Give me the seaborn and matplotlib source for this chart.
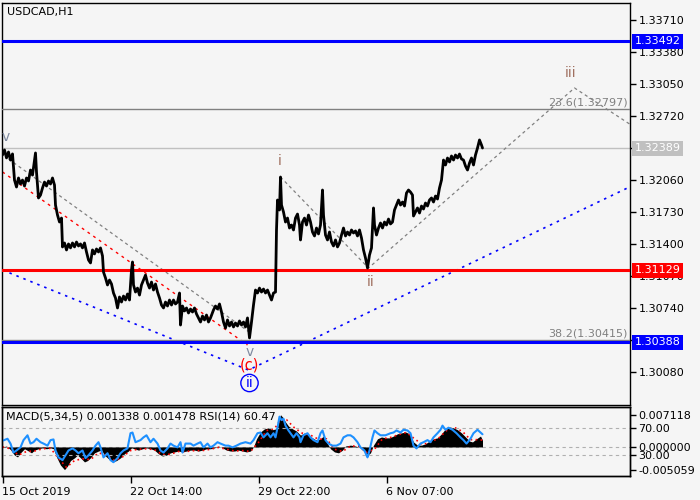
import matplotlib
matplotlib.use("Agg")
import matplotlib.pyplot as plt
import matplotlib.transforms as mtransforms
import seaborn as sns
import pandas as pd

sns.set_theme(style="white")
plt.rcParams['font.family'] = ['DejaVu Sans']

# ---------------- data ----------------
bars = [2, 4, 6, 8, 10, 12, 14, 16, 18, 20, 22, 24, 26, 28, 30, 32, 34, 35, 36, 38, 40, 42, 44, 46, 48, 50,
        52, 54, 55, 57, 59, 61, 62, 64, 66, 68, 70, 72, 74, 76, 78, 80, 82, 84, 86, 88, 90, 92, 94, 96, 98,
        100, 102, 103, 105, 107, 109, 111, 113, 115, 117, 119, 121, 123, 125, 127, 129, 131, 132, 133, 135,
        137, 139, 141, 143, 145, 147, 149, 151, 153, 155, 157, 159, 161, 163, 165, 167, 169, 171, 173, 175,
        177, 179, 180, 182, 184, 186, 188, 190, 192, 194, 196, 198, 200, 202, 204, 206, 208, 210, 213, 215,
        217, 219, 221, 223, 225, 227, 229, 231, 233, 235, 237, 239, 241, 243, 245, 247, 249, 251, 253, 255,
        257, 259, 261, 263, 265, 267, 269, 271, 273, 275, 276, 277, 279, 280, 281, 283, 285, 287, 289, 291,
        293, 295, 297, 299, 300, 302, 304, 306, 308, 310, 312, 314, 316, 318, 320, 322, 323, 325, 327, 329,
        331, 333, 335, 337, 339, 341, 343, 345, 347, 349, 351, 353, 355, 357, 359, 361, 363, 365, 367, 369,
        371, 373, 374, 376, 378, 380, 382, 384, 386, 388, 390, 392, 394, 396, 398, 400, 402, 404, 406, 408,
        410, 412, 413, 415, 417, 419, 421, 423, 425, 427, 429, 431, 433, 435, 437, 439, 441, 443, 445, 447,
        449, 451, 453, 455, 457, 459, 461, 463, 465, 467, 469, 471, 473, 475, 477, 479, 481, 482]
close = [1.32318, 1.32370, 1.32288, 1.32349, 1.32266, 1.32329, 1.32060, 1.31988, 1.32081, 1.32019, 1.32060,
         1.31998, 1.32081, 1.32050, 1.32163, 1.32111, 1.32266, 1.32339, 1.32142, 1.31875, 1.31905, 1.31978,
         1.32039, 1.31998, 1.32050, 1.32019, 1.32081, 1.32008, 1.31802, 1.31699, 1.31627, 1.31668, 1.31370,
         1.31411, 1.31339, 1.31401, 1.31360, 1.31411, 1.31370, 1.31421, 1.31380, 1.31401, 1.31360, 1.31411,
         1.31318, 1.31236, 1.31205, 1.31339, 1.31298, 1.31349, 1.31318, 1.31360, 1.31277, 1.31111, 1.31050,
         1.30978, 1.31029, 1.30988, 1.30895, 1.30844, 1.30741, 1.30854, 1.30802, 1.30864, 1.30823, 1.30885,
         1.30823, 1.31132, 1.31215, 1.30978, 1.30905, 1.30946, 1.30874, 1.30978, 1.31029, 1.31080, 1.30998,
         1.30946, 1.31008, 1.30926, 1.30988, 1.30905, 1.30844, 1.30771, 1.30741, 1.30802, 1.30761, 1.30823,
         1.30771, 1.30823, 1.30782, 1.30802, 1.30895, 1.30565, 1.30761, 1.30710, 1.30741, 1.30689, 1.30730,
         1.30699, 1.30741, 1.30679, 1.30638, 1.30596, 1.30658, 1.30617, 1.30668, 1.30596, 1.30638, 1.30720,
         1.30761, 1.30730, 1.30782, 1.30699, 1.30596, 1.30534, 1.30617, 1.30555, 1.30596, 1.30545, 1.30586,
         1.30555, 1.30607, 1.30565, 1.30596, 1.30545, 1.30638, 1.30432, 1.30596, 1.30771, 1.30926, 1.30895,
         1.30946, 1.30905, 1.30936, 1.30895, 1.30926, 1.30874, 1.30823, 1.30895, 1.30905, 1.31545, 1.31854,
         1.31751, 1.32091, 1.31802, 1.31730, 1.31627, 1.31668, 1.31565, 1.31596, 1.31545, 1.31668, 1.31709,
         1.31596, 1.31442, 1.31627, 1.31668, 1.31596, 1.31699, 1.31627, 1.31524, 1.31483, 1.31565, 1.31504,
         1.31596, 1.31957, 1.31699, 1.31493, 1.31442, 1.31524, 1.31421, 1.31380, 1.31442, 1.31370, 1.31411,
         1.31493, 1.31565, 1.31483, 1.31524, 1.31493, 1.31545, 1.31514, 1.31535, 1.31483, 1.31545, 1.31462,
         1.31339, 1.31256, 1.31153, 1.31287, 1.31360, 1.31772, 1.31596, 1.31493, 1.31565, 1.31617, 1.31565,
         1.31627, 1.31596, 1.31658, 1.31607, 1.31627, 1.31751, 1.31802, 1.31854, 1.31802, 1.31833, 1.31792,
         1.31926, 1.31957, 1.31936, 1.31905, 1.31689, 1.31730, 1.31772, 1.31720, 1.31792, 1.31761, 1.31823,
         1.31792, 1.31854, 1.31875, 1.31833, 1.31895, 1.31864, 1.31978, 1.32060, 1.32266, 1.32215, 1.32287,
         1.32246, 1.32308, 1.32266, 1.32318, 1.32287, 1.32328, 1.32277, 1.32266, 1.32204, 1.32163, 1.32235,
         1.32287, 1.32215, 1.32318, 1.32390, 1.32473, 1.32421, 1.32390]

# horizontal levels
level_values = [1.33492, 1.31129, 1.30388]
level_colors = ['#0000ff', '#ff0000', '#0000ff']
fib_values = [1.32797, 1.30415]
fib_labels = ['23.6(1.32797)', '38.2(1.30415)']
last_price = 1.32389

# wave structure lines
chan_x = [8, 250]
chan_p = [1.32277, 1.30483]
red_x = [2, 247]
red_p = [1.32143, 1.30359]
blue_x = [2, 248, 629]
blue_p = [1.31132, 1.30101, 1.31988]
wave_x = [280, 368, 574, 629]
wave_p = [1.32091, 1.31153, 1.33009, 1.32638]

price_ticks = [1.33710, 1.33380, 1.33050, 1.32720, 1.32390, 1.32060, 1.31730,
               1.31400, 1.31070, 1.30740, 1.30410, 1.30080]
price_tick_labels = ['1.33710', '1.33380', '1.33050', '1.32720', '', '1.32060', '1.31730',
                     '1.31400', '1.31070', '1.30740', '', '1.30080']

# MACD histogram
macd_x = [2, 6, 10, 14, 17, 20, 24, 28, 31, 34, 38, 42, 46, 50, 53, 56, 60, 64, 67, 70, 74, 77, 80, 84,
          87, 90, 94, 98, 101, 104, 108, 112, 116, 120, 124, 128, 131, 134, 138, 142, 146, 150, 154, 158,
          162, 166, 170, 174, 178, 182, 186, 190, 194, 198, 202, 206, 210, 214, 218, 222, 226, 230, 234,
          238, 242, 246, 250, 253, 256, 260, 264, 268, 272, 276, 278, 280, 282, 285, 288, 292, 296, 300,
          304, 308, 312, 316, 320, 323, 326, 330, 334, 338, 342, 345, 350, 355, 360, 364, 367, 370, 373,
          377, 381, 385, 389, 393, 397, 401, 405, 409, 413, 417, 421, 425, 429, 433, 437, 441, 445, 449,
          453, 457, 461, 465, 469, 472, 476, 480, 482]
macd_v = [0.0, 0.0002, -0.0006, -0.0018, -0.0022, -0.0013, -0.0004, -0.0009, -0.0013, -0.0007, -0.0004,
          -0.0002, -0.0004, -0.0002, -0.0004, -0.0022, -0.0040, -0.0050, -0.0042, -0.0030, -0.0024,
          -0.0018, -0.0024, -0.0033, -0.0030, -0.0024, -0.0013, -0.0009, -0.0007, -0.0018, -0.0026,
          -0.0033, -0.0030, -0.0024, -0.0015, -0.0009, -0.0002, -0.0004, -0.0007, -0.0004, -0.0002,
          -0.0004, -0.0007, -0.0015, -0.0020, -0.0018, -0.0013, -0.0011, -0.0009, -0.0011, -0.0009,
          -0.0007, -0.0007, -0.0009, -0.0007, -0.0004, -0.0004, -0.0002, 0.0002, -0.0002, -0.0007,
          -0.0009, -0.0009, -0.0007, -0.0009, -0.0011, -0.0009, 0.0000, 0.0018, 0.0033, 0.0040, 0.0042,
          0.0038, 0.0040, 0.0055, 0.0071, 0.0066, 0.0055, 0.0046, 0.0040, 0.0035, 0.0026, 0.0031, 0.0026,
          0.0020, 0.0015, 0.0018, 0.0024, 0.0011, -0.0004, -0.0011, -0.0013, -0.0007, 0.0002, 0.0004,
          0.0002, -0.0002, -0.0011, -0.0018, -0.0013, 0.0004, 0.0018, 0.0022, 0.0020, 0.0020, 0.0024,
          0.0029, 0.0031, 0.0033, 0.0029, 0.0011, 0.0004, 0.0004, 0.0007, 0.0013, 0.0018, 0.0020, 0.0029,
          0.0040, 0.0044, 0.0042, 0.0038, 0.0031, 0.0022, 0.0013, 0.0011, 0.0018, 0.0024, 0.0015]

signal_x = [2, 10, 18, 26, 34, 42, 50, 58, 66, 74, 82, 90, 98, 106, 114, 122, 130, 138, 146, 154, 162,
            170, 178, 186, 194, 202, 210, 218, 226, 234, 242, 250, 258, 266, 274, 280, 286, 294, 302, 310,
            318, 326, 334, 342, 350, 358, 366, 374, 382, 390, 398, 406, 414, 422, 430, 438, 446, 454, 462,
            470, 478, 482]
signal_v = [0.0, -0.0004, -0.0018, -0.0010, -0.0009, -0.0004, -0.0003, -0.0025, -0.0045, -0.0030, -0.0026,
            -0.0028, -0.0013, -0.0018, -0.0030, -0.0022, -0.0008, -0.0005, -0.0004, -0.0006, -0.0017,
            -0.0016, -0.0010, -0.0010, -0.0008, -0.0008, -0.0005, -0.0001, -0.0005, -0.0009, -0.0008,
            -0.0010, 0.0010, 0.0036, 0.0040, 0.0060, 0.0060, 0.0042, 0.0030, 0.0026, 0.0017, 0.0018,
            -0.0005, -0.0010, 0.0002, 0.0002, -0.0012, -0.0005, 0.0018, 0.0021, 0.0027, 0.0032, 0.0018,
            0.0005, 0.0011, 0.0019, 0.0036, 0.0043, 0.0034, 0.0016, 0.0016, 0.0015]

rsi_x = [3, 7, 10, 13, 16, 20, 23, 27, 30, 33, 36, 40, 43, 47, 50, 53, 55, 58, 62, 65, 68, 72, 75, 78, 82,
         85, 88, 92, 95, 98, 100, 103, 107, 110, 113, 117, 120, 123, 127, 130, 132, 135, 140, 143, 146,
         150, 153, 157, 160, 163, 167, 170, 173, 177, 180, 182, 185, 190, 193, 197, 200, 203, 207, 210,
         213, 217, 220, 225, 228, 232, 236, 240, 245, 250, 253, 257, 260, 263, 267, 270, 273, 275, 277,
         279, 281, 283, 285, 288, 290, 293, 296, 299, 300, 303, 307, 310, 313, 317, 320, 322, 325, 328,
         332, 336, 340, 343, 347, 350, 353, 357, 360, 364, 366, 367, 369, 372, 374, 377, 380, 385, 390,
         393, 396, 400, 403, 407, 410, 413, 416, 420, 423, 427, 430, 433, 437, 440, 442, 445, 448, 452,
         456, 460, 463, 466, 470, 473, 477, 480, 482]
rsi_v = [51.6, 54, 47, 34, 37, 41.5, 52, 59, 47, 49, 54, 49, 47, 44, 52, 53, 37, 27, 23, 30, 37, 40, 37,
         33, 37, 26, 30, 37, 44, 49, 41.5, 27, 33, 23, 20, 26, 33, 37, 40, 62, 63, 49, 52, 56, 59, 49, 54,
         47, 37, 34, 40, 47, 44, 41.5, 49, 34, 47, 47, 44, 47, 49, 41.5, 47, 41.5, 44, 49, 47, 44, 44,
         41.5, 44, 47, 49, 47, 52, 62, 63, 56, 62, 56, 62, 56, 70, 86, 81, 83, 73, 66, 62, 56, 62, 56, 49,
         59, 62, 56, 52, 49, 62, 66, 52, 47, 44, 44, 47, 56, 59, 59, 56, 49, 41.5, 37, 30, 27, 37, 56, 66,
         62, 59, 59, 62, 63, 66, 63, 67, 66, 62, 44, 40, 47, 49, 52, 49, 56, 62, 67, 73, 67, 70, 67, 62,
         56, 52, 47, 54, 62, 67, 63, 60.47]

date_ticks = [2, 130, 258, 386]
date_labels = ['15 Oct 2019', '22 Oct 14:00', '29 Oct 22:00', '6 Nov 07:00']

# ---------------- figure ----------------
W, H = 700, 500
bg = '#f5f5f5'
fig = plt.figure(figsize=(7, 5), dpi=100, facecolor=bg)
ax = fig.add_axes([2 / W, 1 - 405 / H, 628 / W, 402 / H], facecolor=bg)
axm = fig.add_axes([2 / W, 1 - 476 / H, 628 / W, 69 / H], facecolor=bg)

XL = (1.5, 629.5)
def p_of(y):
    return 1.33916 - 0.0001031 * y

# price
df = pd.DataFrame({'bar': bars, 'close': close})
sns.lineplot(data=df, x='bar', y='close', ax=ax, color='black', lw=2.0,
             estimator=None, sort=False, zorder=4)

# levels
for v, c in zip(level_values, level_colors):
    ax.axhline(v, color=c, lw=2.2, zorder=3)
for v in fib_values:
    ax.axhline(v, color='#808080', lw=1.0, zorder=2.9)
ax.axhline(last_price, color='#c0c0c0', lw=1.0, zorder=2)

# wave lines
sns.lineplot(x=chan_x, y=chan_p, ax=ax, color='#808080', lw=0.9, linestyle=(0, (2.5, 2.5)), estimator=None)
sns.lineplot(x=red_x, y=red_p, ax=ax, color='#ff0000', lw=1.0, linestyle=(0, (2, 3)), estimator=None)
ax.plot(blue_x, blue_p, color='#0000ff', lw=1.2, linestyle=(0, (1.5, 3)))
ax.plot(wave_x, wave_p, color='#808080', lw=0.9, linestyle=(0, (2.5, 2.5)))

ax.set_xlim(*XL)
ax.set_ylim(p_of(405), p_of(3))
ax.set_xticks([])
ax.set_xlabel('')
ax.set_ylabel('')
ax.yaxis.tick_right()
ax.set_yticks(price_ticks)
ax.set_yticklabels(price_tick_labels)
ax.tick_params(axis='y', direction='out', length=4, width=1, color='black',
               labelsize=8, pad=2, labelcolor='black', right=True, left=False)
for s in ax.spines.values():
    s.set_color('black')
    s.set_linewidth(1)

# right side price labels
tr = mtransforms.blended_transform_factory(ax.transAxes, ax.transData)
for v, c in list(zip(level_values, level_colors)) + [(last_price, '#c0c0c0')]:
    ax.text(1.007, v, f'{v:.5f}', transform=tr, color='white', fontsize=8, va='center', ha='left',
            clip_on=False, zorder=10,
            bbox=dict(boxstyle='square,pad=0.22', fc=c, ec='none'))

# fib labels
for v, lab in zip(fib_values, fib_labels):
    ax.text(627, v + 0.00012, lab, color='#808080', fontsize=8, ha='right', va='bottom', zorder=5)

ax.text(6, p_of(12), 'USDCAD,H1', color='black', fontsize=8, ha='left', va='center')

wave_col = '#a07060'
ax.text(5, p_of(137), 'v', color='#7f8aa0', fontsize=10, ha='center', va='center')
ax.text(279, p_of(161), 'i', color=wave_col, fontsize=10, ha='center', va='center')
ax.text(370, p_of(282), 'ii', color=wave_col, fontsize=10, ha='center', va='center')
ax.text(570, p_of(73), 'iii', color=wave_col, fontsize=10, ha='center', va='center')
ax.text(249, p_of(352), 'v', color='#7f8aa0', fontsize=10, ha='center', va='center', zorder=6)
ax.text(249, p_of(365), '(c)', color='#ff0000', fontsize=10.5, ha='center', va='center', zorder=6)
ax.text(249, p_of(383), 'ii', color='#0000ff', fontsize=10, ha='center', va='center', zorder=6,
        bbox=dict(boxstyle='circle,pad=0.12', fc=bg, ec='#0000ff', lw=1))

# ---------------- MACD / RSI panel ----------------
axm.fill_between(macd_x, 0, macd_v, color='black', lw=0, zorder=2)
sns.lineplot(x=signal_x, y=signal_v, ax=axm, color='#ff0000', lw=1.2, linestyle=(0, (1, 2)),
             estimator=None, zorder=3)
axm.axhline(0, color='#b0b0b0', lw=0.8, linestyle=(0, (3, 3)), zorder=1)
axm.set_xlim(*XL)
axm.set_ylim(-0.0064, 0.0088)
axm.set_xticks(date_ticks)
axm.set_xticklabels(date_labels, ha='left')
axm.tick_params(axis='x', direction='out', length=5, width=1, labelsize=8, pad=3, bottom=True,
                labelcolor='black', color='black')
axm.set_xlabel('')
axm.set_ylabel('')
for s in axm.spines.values():
    s.set_color('black')
    s.set_linewidth(1)

axr = axm.twinx()
axr.axhline(70, color='#b0b0b0', lw=0.8, linestyle=(0, (3, 3)))
axr.axhline(30, color='#b0b0b0', lw=0.8, linestyle=(0, (3, 3)))
sns.lineplot(x=rsi_x, y=rsi_v, ax=axr, color='#1e90ff', lw=1.5, estimator=None)
axr.set_xlim(*XL)
axr.set_ylim(0, 100)
axr.set_yticks([70, 30])
axr.set_yticklabels(['70.00', '30.00'])
axr.tick_params(axis='y', direction='out', length=4, width=1, labelsize=8, pad=2,
                labelcolor='black', color='black')
axr.set_ylabel('')
for s in axr.spines.values():
    s.set_color('black')
    s.set_linewidth(1)

# MACD ticks on the right (after twinx, which moves them left)
axm.yaxis.tick_right()
axm.yaxis.set_label_position('right')
axm.set_yticks([0.007118, 0.0, -0.005059])
axm.set_yticklabels(['0.007118', '0.000000', '-0.005059'])
axm.tick_params(axis='y', direction='out', length=4, width=1, labelsize=8, pad=2,
                right=True, left=False, labelright=True, labelleft=False,
                labelcolor='black', color='black')

axm.text(5, 0.0068, 'MACD(5,34,5) 0.001338 0.001478 RSI(14) 60.47', color='black', fontsize=8,
         ha='left', va='center', zorder=5)

fig.savefig('out.png', dpi=100, facecolor=bg)
